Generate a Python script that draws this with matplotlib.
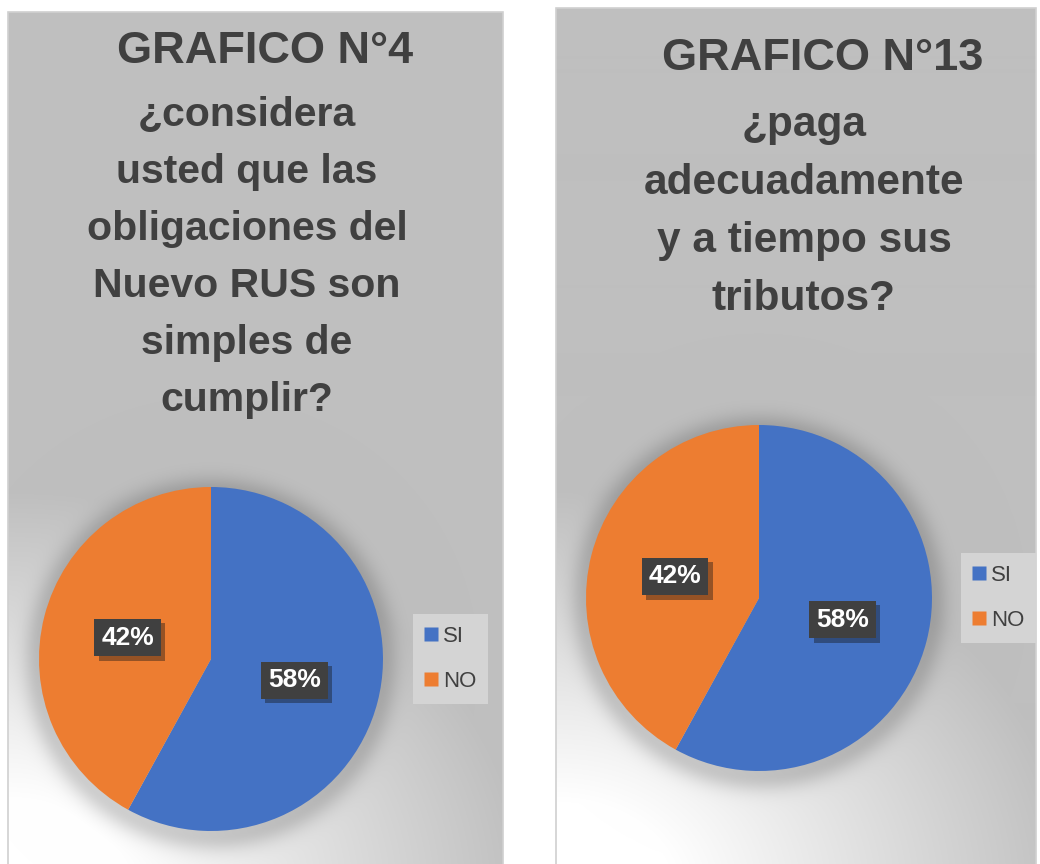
import numpy as np
import matplotlib
matplotlib.use('Agg')
import matplotlib.pyplot as plt
import matplotlib.patheffects as pe
from matplotlib.lines import Line2D
from matplotlib.patches import Rectangle

# data
categories = ['SI', 'NO']
values_g4 = [58, 42]
values_g13 = [58, 42]
heading_g4 = 'GRAFICO N°4'
question_g4 = ['¿considera', 'usted que las', 'obligaciones del',
               'Nuevo RUS son', 'simples de', 'cumplir?']
heading_g13 = 'GRAFICO N°13'
question_g13 = ['¿paga', 'adecuadamente', 'y a tiempo sus', 'tributos?']
colors = ['#4472C4', '#ED7D31']

W, H = 1040, 864
TXT = '#404040'
FONT = 'Liberation Sans'

fig = plt.figure(figsize=(W / 100, H / 100), dpi=100)
fig.patch.set_facecolor('white')


def panel_background(x0, y0, x1, y1, cx, cy, r):
    # gray panel, whitish glow from bottom-left corner, soft shadow behind the pie
    xs = np.arange(x0, x1) + 0.5
    ys = np.arange(y0, y1) + 0.5
    X, Y = np.meshgrid(xs, ys)
    d = np.hypot(X - x0, 1.3 * (Y - (H + 30)))
    t = np.clip((d - 120) / 400.0, 0, 1)
    val = 255 - 64 * t
    rr = np.hypot(X - cx, Y - (cy + 5))
    sh = np.where(rr < r, 1.0, np.exp(-((rr - r) / 16.0) ** 2))
    val = val * (1 - 0.17 * sh)
    img = np.dstack([val] * 3) / 255.0
    ax = fig.add_axes([x0 / W, 1 - y1 / H, (x1 - x0) / W, (y1 - y0) / H])
    ax.imshow(img, extent=(0, 1, 0, 1), aspect='auto', interpolation='bilinear')
    ax.set_xlim(0, 1)
    ax.set_ylim(0, 1)
    ax.axis('off')
    ax.add_patch(Rectangle((0, 0), 1, 1, transform=ax.transAxes, fill=False,
                           edgecolor='#D0D0D0', lw=1.2, clip_on=False))
    return ax


def draw_titles(heading, lines, hx, hy, qx, qy, step, size):
    fig.text(hx / W, 1 - hy / H, heading, ha='center', va='baseline',
             fontsize=32.5, fontweight='bold', color=TXT, family=FONT)
    for i, s in enumerate(lines):
        fig.text(qx / W, 1 - (qy + i * step) / H, s, ha='center', va='baseline',
                 fontsize=size, fontweight='bold', color=TXT, family=FONT)


def draw_pie(values, cx, cy, r, lx, ly):
    ax = fig.add_axes([(cx - r) / W, 1 - (cy + r) / H, 2 * r / W, 2 * r / H])
    wedges, texts, autotexts = ax.pie(values, colors=colors, startangle=90,
                                      counterclock=False, autopct='%1.0f%%',
                                      pctdistance=0.5, radius=1,
                                      wedgeprops=dict(linewidth=0))
    ax.set_xlim(-1, 1)
    ax.set_ylim(-1, 1)
    for t in autotexts:
        t.set_color('white')
        t.set_fontsize(19)
        t.set_fontweight('bold')
        t.set_family(FONT)
        t.set_bbox(dict(boxstyle='square,pad=0.26', facecolor='#404040', edgecolor='none'))
        t.get_bbox_patch().set_path_effects([pe.SimplePatchShadow(offset=(3, -3), alpha=0.4),
                                             pe.Normal()])
    handles = [Line2D([], [], marker='s', linestyle='none', markersize=9.5,
                      markerfacecolor=c, markeredgecolor='none') for c in colors]
    fig.legend(handles, categories, loc='upper left',
               bbox_to_anchor=(lx / W, 1 - ly / H), bbox_transform=fig.transFigure,
               frameon=True, facecolor='#D4D4D4', edgecolor='none', framealpha=1,
               fancybox=False, labelcolor=TXT, prop=dict(family=FONT, size=16),
               handlelength=0.6, handletextpad=0.25, labelspacing=1.1,
               borderpad=0.52, borderaxespad=0)


# left chart
panel_background(8, 12, 503, 870, 211, 659, 172)
draw_titles(heading_g4, question_g4, 265, 63, 247, 126, 57, 29.5)
draw_pie(values_g4, 211, 659, 172, 413, 614)

# right chart
panel_background(556, 8, 1036, 870, 759, 598, 173)
draw_titles(heading_g13, question_g13, 823, 70, 804, 136, 58, 30.5)
draw_pie(values_g13, 759, 598, 173, 961, 553)

fig.savefig('out.png', dpi=100)
